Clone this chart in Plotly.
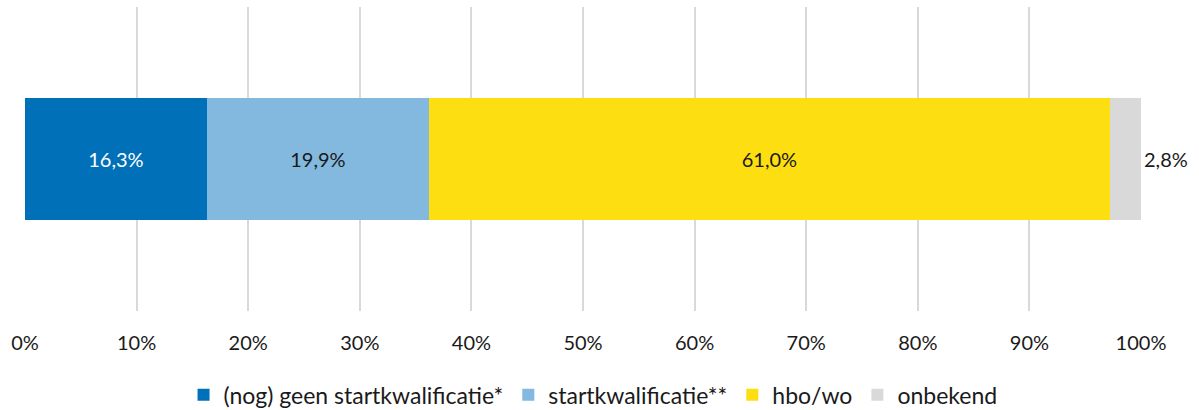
import plotly.graph_objects as go

categories = [""]
series_names = ["(nog) geen startkwalificatie*", "startkwalificatie**", "hbo/wo", "onbekend"]
values = [16.3, 19.9, 61.0, 2.8]
colors = ["#0070B8", "#83B9DE", "#FDDF11", "#D9D9D9"]
text_colors = ["white", "#1a1a1a", "#1a1a1a", "#1a1a1a"]
tick_vals = [0, 10, 20, 30, 40, 50, 60, 70, 80, 90, 100]
tick_text = [f"{v}%" for v in tick_vals]

FONT = "Lato, Carlito, 'Open Sans', sans-serif"

fig = go.Figure()
for i, (name, v) in enumerate(zip(series_names, values)):
    fig.add_trace(go.Bar(
        x=[v], y=categories, orientation="h", name=name,
        marker=dict(color=colors[i], line=dict(width=0)),
        texttemplate="%{x:.1f}%",
        textposition="outside" if i == len(values) - 1 else "inside",
        insidetextanchor="middle",
        textfont=dict(color=text_colors[i], size=20, family=FONT),
        outsidetextfont=dict(color=text_colors[i], size=20, family=FONT),
        cliponaxis=False,
        hoverinfo="skip",
    ))

fig.update_layout(
    width=1199, height=410,
    barmode="stack", bargap=0.6,
    separators=",.",
    plot_bgcolor="white", paper_bgcolor="white",
    margin=dict(l=25, r=58, t=7, b=99),
    font=dict(family=FONT, size=20, color="#1a1a1a"),
    xaxis=dict(range=[0, 100], tickvals=tick_vals, ticktext=tick_text,
               showgrid=True, gridcolor="#D9D9D9", gridwidth=1.5,
               zeroline=False, showline=False,
               ticks="outside", ticklen=14, tickcolor="rgba(0,0,0,0)",
               tickfont=dict(size=20, family=FONT, color="#1a1a1a")),
    yaxis=dict(showticklabels=False, showgrid=False, zeroline=False, range=[-0.5, 0.5]),
    legend=dict(orientation="h", x=0.509, xanchor="center",
                yref="container", y=0.037, yanchor="middle",
                font=dict(size=23, family=FONT, color="#1a1a1a"),
                traceorder="normal", itemwidth=30),
    showlegend=True,
)

fig.write_html("out.html", config={"displayModeBar": False},
               post_script="document.body.style.margin='0';")
